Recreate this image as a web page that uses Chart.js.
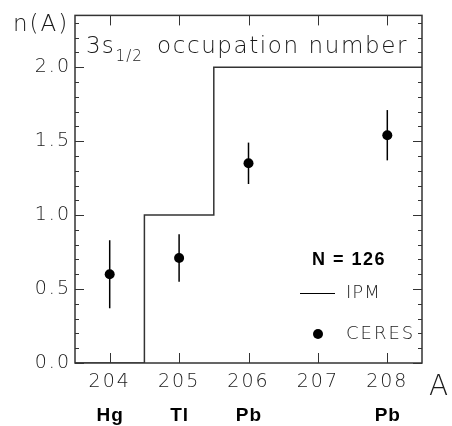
<!DOCTYPE html>
<html>
<head>
<meta charset="utf-8">
<script src="https://cdn.jsdelivr.net/npm/chart.js@4/dist/chart.umd.min.js"></script>
<style>
html,body{margin:0;padding:0;background:#fff;}
#wrap{width:452px;height:426px;position:relative;}
</style>
</head>
<body>
<div id="wrap"><canvas id="c" width="452" height="426"></canvas></div>
<script>
// ---- data ----
const isotopes = [204, 205, 206, 207, 208];
const elements = ['Hg', 'Tl', 'Pb', '', 'Pb'];
const ceresA = [204, 205, 206, 208];
const ceresN = [0.60, 0.71, 1.35, 1.54];
const ceresErr = [0.23, 0.16, 0.14, 0.17];
const ipmA = [203.5, 204.5, 205.5, 208.5];
const ipmN = [0, 1, 2, 2];
const yTicks = [0.0, 0.5, 1.0, 1.5, 2.0];
const yMinorStep = 0.1;

const THIN = '"DejaVu Sans", sans-serif';
const INK = '#1a1a1a';

const decor = {
  id: 'decor',
  beforeDraw(chart) { chart.ctx.letterSpacing = '2px'; },
  afterDatasetsDraw(chart) {
    const ctx = chart.ctx;
    const xs = chart.scales.x, ys = chart.scales.y;
    const a = chart.chartArea;
    ctx.save();
    ctx.letterSpacing = '0px';
    // error bars
    ctx.strokeStyle = '#000';
    ctx.lineWidth = 1.5;
    ceresA.forEach((x, i) => {
      const px = xs.getPixelForValue(x);
      ctx.beginPath();
      ctx.moveTo(px, ys.getPixelForValue(ceresN[i] + ceresErr[i]));
      ctx.lineTo(px, ys.getPixelForValue(ceresN[i] - ceresErr[i]));
      ctx.stroke();
    });
    // frame
    ctx.strokeStyle = '#333';
    ctx.lineWidth = 1.5;
    ctx.strokeRect(a.left, a.top, a.right - a.left, a.bottom - a.top);
    // y ticks (major + minor), both sides, inward
    ctx.lineWidth = 1;
    for (let v = 0; v <= ys.max + 1e-9; v += yMinorStep) {
      const vv = Math.round(v * 10) / 10;
      const py = Math.round(ys.getPixelForValue(vv)) + 0.5;
      const major = yTicks.some(t => Math.abs(t - vv) < 1e-6);
      const len = major ? 9 : 4;
      ctx.beginPath();
      ctx.moveTo(a.left, py); ctx.lineTo(a.left + len, py);
      ctx.moveTo(a.right, py); ctx.lineTo(a.right - len, py);
      ctx.stroke();
    }
    // x ticks bottom/top
    isotopes.forEach(v => {
      const px = Math.round(xs.getPixelForValue(v)) + 0.5;
      ctx.beginPath();
      ctx.moveTo(px, a.bottom); ctx.lineTo(px, a.bottom - 10);
      ctx.moveTo(px, a.top); ctx.lineTo(px, a.top + 10);
      ctx.stroke();
    });
    // element labels
    ctx.fillStyle = '#000';
    ctx.font = 'bold 19px "Liberation Sans", Arial, sans-serif';
    ctx.letterSpacing = '1px';
    ctx.textAlign = 'center';
    ctx.textBaseline = 'middle';
    isotopes.forEach((v, i) => {
      if (elements[i]) ctx.fillText(elements[i], xs.getPixelForValue(v) + 0.5, 416);
    });
    // axis titles
    ctx.fillStyle = INK;
    ctx.letterSpacing = '2px';
    ctx.font = '200 23px ' + THIN;
    ctx.textAlign = 'left';
    ctx.textBaseline = 'alphabetic';
    ctx.fillText('n(A)', 13, 31);
    ctx.font = '200 28px ' + THIN;
    ctx.fillText('A', 429, 395);
    // plot title with subscript
    ctx.font = '200 23px ' + THIN;
    ctx.letterSpacing = '1px';
    ctx.fillText('3s', 86, 53);
    const w3 = ctx.measureText('3s').width;
    ctx.font = '200 15px ' + THIN;
    ctx.fillText('1/2', 86 + w3 + 1, 61);
    ctx.font = '200 23px ' + THIN;
    ctx.letterSpacing = '1.6px';
    ctx.fillText('occupation number', 157, 53);
    // legend
    ctx.fillStyle = '#000';
    ctx.font = 'bold 18px "Liberation Sans", Arial, sans-serif';
    ctx.letterSpacing = '1.5px';
    ctx.textBaseline = 'middle';
    ctx.fillText('N = 126', 312, 260);
    ctx.strokeStyle = '#000';
    ctx.lineWidth = 1.2;
    ctx.beginPath(); ctx.moveTo(300, 293.5); ctx.lineTo(335, 293.5); ctx.stroke();
    ctx.fillStyle = INK;
    ctx.font = '200 18px ' + THIN;
    ctx.letterSpacing = '1px';
    ctx.fillText('IPM', 346, 293);
    ctx.letterSpacing = '2px';
    ctx.fillText('CERES', 346, 334);
    ctx.fillStyle = '#000';
    ctx.beginPath(); ctx.arc(318, 334, 5, 0, Math.PI * 2); ctx.fill();
    ctx.restore();
  }
};

new Chart(document.getElementById('c'), {
  type: 'scatter',
  data: {
    datasets: [
      {
        type: 'line',
        label: 'IPM',
        data: ipmA.map((x, i) => ({ x, y: ipmN[i] })),
        stepped: 'before',
        borderColor: '#333',
        borderWidth: 1.5,
        pointRadius: 0,
        fill: false
      },
      {
        label: 'CERES',
        data: ceresA.map((x, i) => ({ x, y: ceresN[i] })),
        pointRadius: 5,
        pointBackgroundColor: '#000',
        pointBorderColor: '#000',
        pointBorderWidth: 0
      }
    ]
  },
  options: {
    responsive: false,
    animation: false,
    layout: { padding: { left: 0, right: 30, top: 15, bottom: 0 } },
    plugins: { legend: { display: false }, tooltip: { enabled: false } },
    scales: {
      x: {
        type: 'linear', min: 203.5, max: 208.5,
        afterBuildTicks: s => { s.ticks = isotopes.map(v => ({ value: v })); },
        afterFit: s => { s.height = 63; },
        grid: { display: false, drawTicks: false },
        border: { display: false },
        ticks: { color: INK, font: { family: THIN, size: 19, weight: 200 }, padding: 8, maxRotation: 0, callback: v => String(v) }
      },
      y: {
        type: 'linear', min: 0, max: 2.35,
        afterBuildTicks: s => { s.ticks = yTicks.map(v => ({ value: v })); },
        afterFit: s => { s.width = 75; },
        grid: { display: false, drawTicks: false },
        border: { display: false },
        ticks: { color: INK, font: { family: THIN, size: 19, weight: 200 }, padding: 4, callback: v => Number(v).toFixed(1) }
      }
    }
  },
  plugins: [decor]
});
</script>
</body>
</html>
